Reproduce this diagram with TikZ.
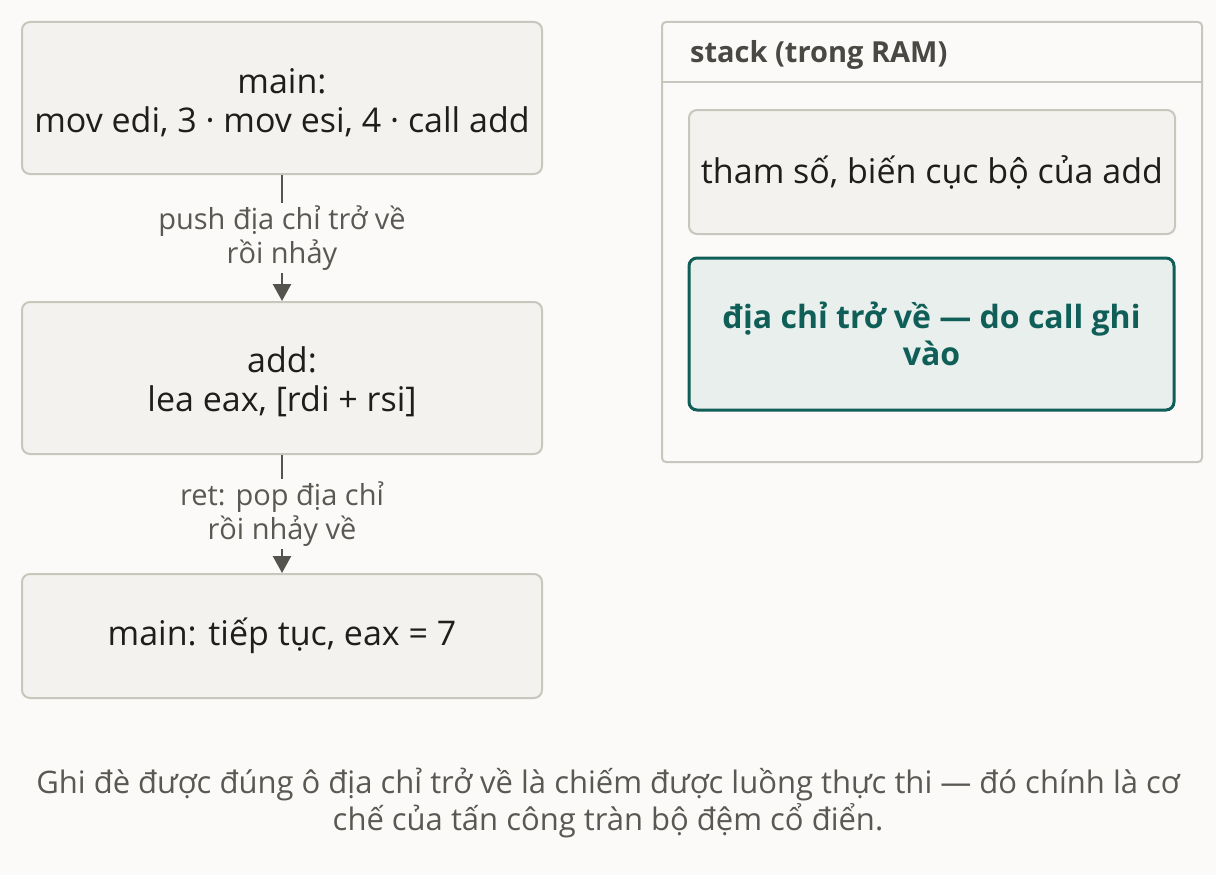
\documentclass[tikz,border=0pt]{standalone}
\usepackage{fontspec}
\setmainfont{Open Sans}
\usetikzlibrary{arrows.meta}
\definecolor{bg}{HTML}{FBFAF8}
\definecolor{boxfill}{HTML}{F3F2EE}
\definecolor{boxline}{HTML}{C9C6BE}
\definecolor{ink}{HTML}{1F1E1C}
\definecolor{muted}{HTML}{5A5852}
\definecolor{arrowc}{HTML}{55534D}
\definecolor{teal}{HTML}{0F5E57}
\definecolor{tealfill}{HTML}{E8EFEC}
\definecolor{titlec}{HTML}{4A4843}
\newcommand{\topstrut}{\rule{0pt}{34pt}}
\tikzset{
  stepbox/.style={draw=boxline, line width=2pt, fill=boxfill, rounded corners=8pt,
    inner sep=0pt, align=center, text=ink, font=\fontsize{34}{39}\selectfont},
  keybox/.style={draw=teal, line width=3pt, fill=tealfill, rounded corners=8pt,
    inner sep=0pt, align=center, text=teal, font=\bfseries\fontsize{32}{37}\selectfont},
  flow/.style={draw=arrowc, line width=2.5pt, -{Triangle[length=17pt,width=18pt]}},
  flowlabel/.style={fill=bg, inner sep=3pt, align=center, text=muted,
    font=\fontsize{29}{34}\selectfont},
}
\begin{document}
\begin{tikzpicture}[x=1pt,y=-1pt]
\useasboundingbox[fill=bg] (0,0) rectangle (1216,875);

% left flow
\node[stepbox, minimum width=520pt, minimum height=152pt] (m1) at (282,98)
  {\topstrut main:\\mov edi, 3 · mov esi, 4 · call add};
\node[stepbox, minimum width=520pt, minimum height=152pt] (add) at (282,378)
  {\topstrut add:\\lea eax, [rdi + rsi]};
\node[stepbox, minimum width=520pt, minimum height=124pt] (m2) at (282,636)
  {main: tiếp tục, eax = 7};

\draw[flow] (m1.south) -- node[flowlabel] {push địa chỉ trở về\\rồi nhảy} (add.north);
\draw[flow] (add.south) -- node[flowlabel] {ret: pop địa chỉ\\rồi nhảy về} (m2.north);

% stack container
\node[draw=boxline, line width=2pt, fill=bg, rounded corners=4pt, inner sep=0pt,
  minimum width=540pt, minimum height=440pt] (stack) at (932,242) {};
\coordinate (hl) at (663,82);
\coordinate (hr) at (1201,82);
\draw[boxline, line width=2pt] (hl) -- (hr);
\node[anchor=west, text=titlec, font=\bfseries\fontsize{29}{32}\selectfont, inner sep=0pt]
  (title) at (690,55) {stack (trong RAM)};

\node[stepbox, minimum width=486pt, minimum height=124pt] (s1) at (932,172)
  {tham số, biến cục bộ của add};
\node[keybox, minimum width=485pt, minimum height=152pt] (s2) at (931.5,334)
  {địa chỉ trở về — do call ghi\\vào};

% caption
\node[align=center, text=muted, font=\fontsize{31}{37}\selectfont, inner sep=0pt]
  (cap) at (608,803)
  {Ghi đè được đúng ô địa chỉ trở về là chiếm được luồng thực thi — đó chính là cơ\\chế của tấn công tràn bộ đệm cổ điển.};
\end{tikzpicture}
\end{document}
